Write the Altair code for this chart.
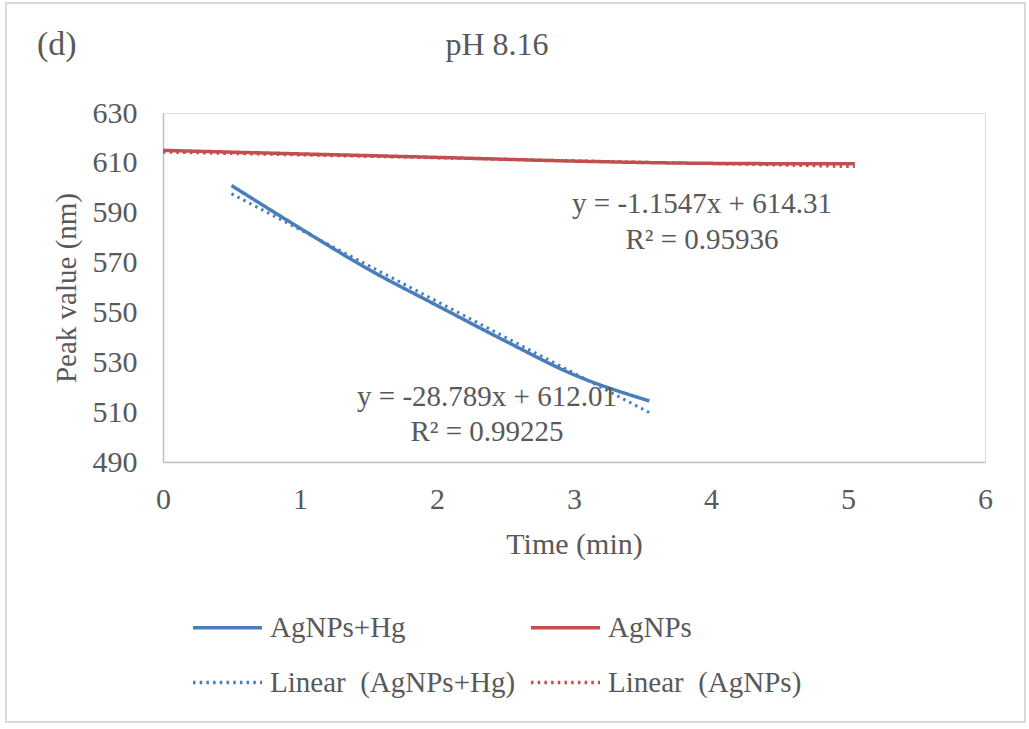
import altair as alt
import pandas as pd

# Peak position over time for the two samples
hg_time = [0.5, 1.0, 1.5, 2.0, 2.5, 3.0, 3.55]
hg_peak = [600.9, 583.8, 567.3, 552.8, 538.5, 525.0, 514.5]
ag_time = [0.0, 1.0, 2.0, 3.0, 4.0, 5.05]
ag_peak = [615.0, 613.6, 612.2, 610.7, 609.8, 609.6]

# Linear trendlines: slope, intercept and R squared
hg_fit = (-28.789, 612.01, 0.99225)
ag_fit = (-1.1547, 614.31, 0.95936)

series_names = ["AgNPs+Hg", "AgNPs", "Linear\u00a0 (AgNPs+Hg)", "Linear\u00a0 (AgNPs)"]
series_colors = ["#4A7EBB", "#C0504D", "#4A7EBB", "#C0504D"]
series_dash = [[1, 0], [1, 0], [2.5, 4.2], [2.5, 4.2]]

# Equation label anchors (data units)
eq_x = [2.365, 2.365, 3.934, 3.934]
eq_y = [516.1, 502.0, 593.5, 579.1]

y_ticks = [490, 510, 530, 550, 570, 590, 610, 630]
x_ticks = [0, 1, 2, 3, 4, 5, 6]

FONT = "Liberation Serif"
TEXT = "#595959"
AXIS = "#BFBFBF"

measured = pd.DataFrame({
    "time": hg_time + ag_time,
    "peak": hg_peak + ag_peak,
    "series": [series_names[0]] * len(hg_time) + [series_names[1]] * len(ag_time),
})

trend_rows = []
for name, times, (m, b, _) in [(series_names[2], hg_time, hg_fit), (series_names[3], ag_time, ag_fit)]:
    for t in (min(times), max(times)):
        trend_rows.append({"time": t, "peak": m * t + b, "series": name})
trend = pd.DataFrame(trend_rows)


def eq_text(m, b):
    sign = "+" if b >= 0 else "-"
    return f"y = {m:g}x {sign} {abs(b):.2f}"


equations = pd.DataFrame({
    "time": eq_x,
    "peak": eq_y,
    "label": [eq_text(hg_fit[0], hg_fit[1]), f"R\u00b2 = {hg_fit[2]:.5f}",
              eq_text(ag_fit[0], ag_fit[1]), f"R\u00b2 = {ag_fit[2]:.5f}"],
})

x_scale = alt.Scale(domain=[0, 6], nice=False)
y_scale = alt.Scale(domain=[490, 630], nice=False, zero=False)

legend = alt.Legend(
    title=None, orient="none", legendX=28, legendY=478, columns=2,
    direction="horizontal", columnPadding=8, rowPadding=3, padding=0,
    symbolType="stroke", symbolSize=4761, symbolStrokeWidth=3.5,
    labelFont=FONT, labelFontSize=29, labelColor=TEXT, labelOffset=6,
    labelLimit=400,
)
color = alt.Color("series:N", scale=alt.Scale(domain=series_names, range=series_colors), legend=legend)
dash = alt.StrokeDash("series:N", scale=alt.Scale(domain=series_names, range=series_dash), legend=legend)

x_enc = alt.X("time:Q", scale=x_scale, axis=alt.Axis(
    values=x_ticks, format="d", title="Time (min)", ticks=False, grid=False,
    domainColor=AXIS, domainWidth=1.5, labelFlush=False, labelOverlap=False,
    labelFont=FONT, labelFontSize=30, labelColor=TEXT, labelPadding=22,
    titleFont=FONT, titleFontSize=30, titleColor=TEXT, titleFontWeight="normal",
    titleY=91, titleBaseline="alphabetic",
))
y_enc = alt.Y("peak:Q", scale=y_scale, axis=alt.Axis(
    values=y_ticks, title="Peak value (nm)", ticks=False, grid=False,
    domainColor=AXIS, domainWidth=1.5, labelOverlap=False,
    labelFont=FONT, labelFontSize=30, labelColor=TEXT, labelPadding=26,
    titleFont=FONT, titleFontSize=29, titleColor=TEXT, titleFontWeight="normal",
    titleX=-88, titleY=174.5, titleBaseline="alphabetic", titleAlign="center",
))

lines = alt.Chart(measured).mark_line(strokeWidth=3.5, interpolate="monotone").encode(
    x=x_enc, y=y_enc, color=color, strokeDash=dash, detail="series:N"
)
trendlines = alt.Chart(trend).mark_line(strokeWidth=3).encode(
    x="time:Q", y="peak:Q", color=color, strokeDash=dash, detail="series:N"
)
eq_labels = alt.Chart(equations).mark_text(
    font=FONT, fontSize=29, color=TEXT, align="center", baseline="middle"
).encode(x="time:Q", y="peak:Q", text="label:N")

# Heading line: panel tag on the left, chart title over the plot
panel_tag = alt.Chart(pd.DataFrame({"tag": ["(d)"]})).mark_text(
    font=FONT, fontSize=34, color=TEXT, align="left", baseline="middle"
).encode(x=alt.value(-126), y=alt.value(-68), text="tag:N")

heading = alt.Chart(pd.DataFrame({"title": ["pH 8.16"]})).mark_text(
    font=FONT, fontSize=32, color=TEXT, align="center", baseline="middle"
).encode(x=alt.value(334), y=alt.value(-68), text="title:N")

frame = alt.Chart(pd.DataFrame({"k": [0]})).mark_rect(
    fillOpacity=0, stroke="#D9D9D9", strokeWidth=2
).encode(x=alt.value(-157), x2=alt.value(862), y=alt.value(-110), y2=alt.value(609))

chart = alt.layer(frame, lines, trendlines, eq_labels, panel_tag, heading).properties(
    width=822, height=349,
    autosize=alt.AutoSizeParams(type="none"),
    padding={"left": 163, "top": 113, "right": 44, "bottom": 267},
).configure_view(stroke=None).configure(background="white")

chart.save("out.html", embed_options={"renderer": "svg", "actions": False})
